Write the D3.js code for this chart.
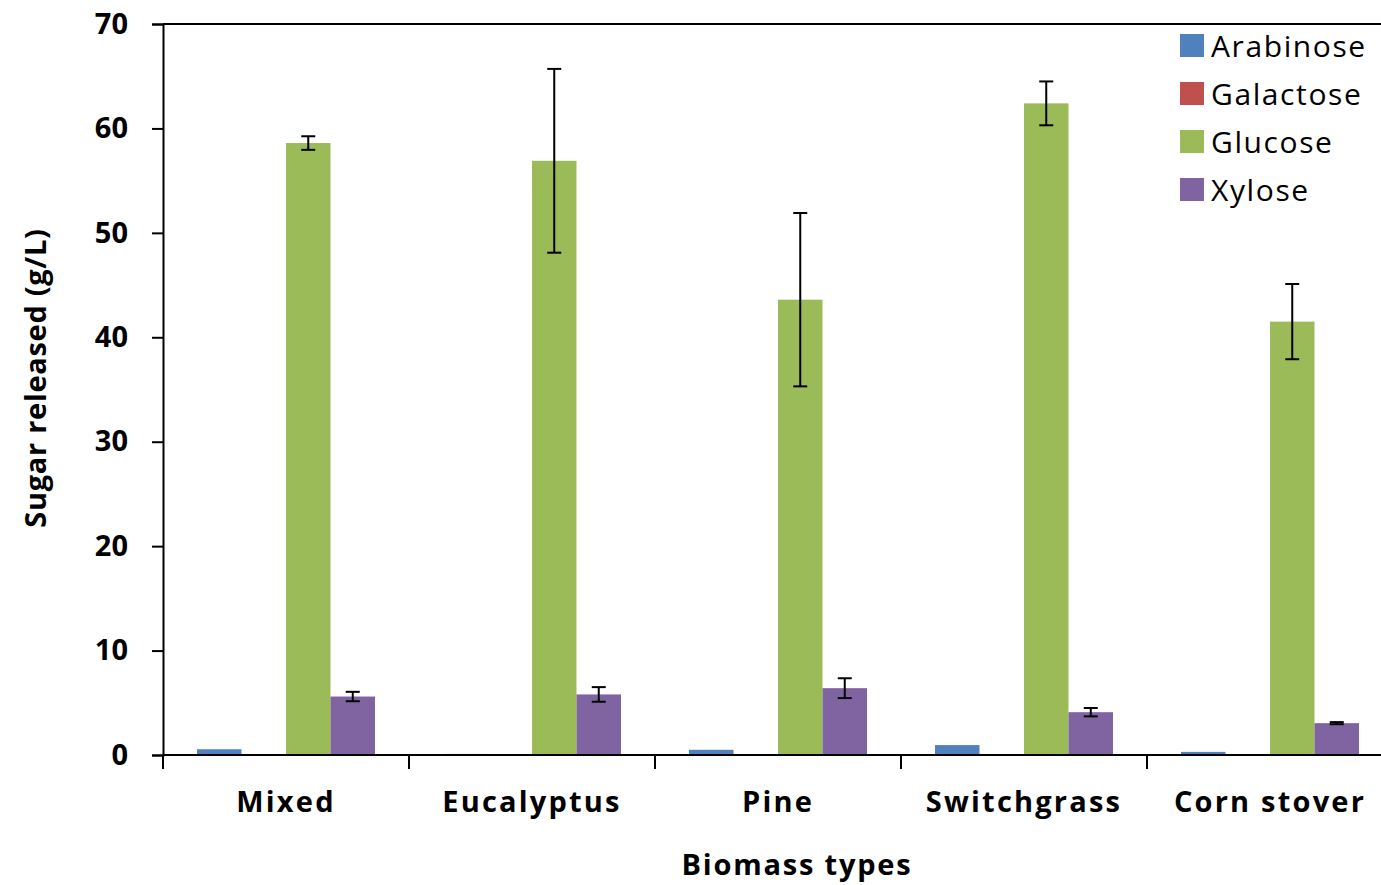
<!DOCTYPE html>
<html>
<head>
<meta charset="utf-8">
<script src="https://cdn.jsdelivr.net/npm/d3@7"></script>
<style>
  body { margin: 0; background: #fff; }
  text { font-family: "Open Sans", sans-serif; }
</style>
</head>
<body>
<div id="chart"></div>
<script>
const categories = ['Mixed', 'Eucalyptus', 'Pine', 'Switchgrass', 'Corn stover'];
const sugars = ['Arabinose', 'Galactose', 'Glucose', 'Xylose'];
const colors = ['#4f81bd', '#c0504d', '#9bbb59', '#8064a2'];

// means per sugar, in category order
const arabinose = [0.55, 0.1, 0.5, 0.95, 0.3];
const galactose = [0.05, 0.05, 0.05, 0.05, 0.05];
const glucose = [58.6, 56.9, 43.6, 62.4, 41.5];
const xylose = [5.6, 5.8, 6.4, 4.1, 3.05];

// error bars (± value), null = none
const glucoseErr = [0.65, 8.8, 8.3, 2.1, 3.6];
const xyloseErr = [0.45, 0.7, 0.95, 0.4, 0.1];

const yTicks = [0, 10, 20, 30, 40, 50, 60, 70];

const width = 1381, height = 885;
const margin = {top: 24, bottom: 130, left: 163};
const svg = d3.select('#chart').append('svg').attr('width', width).attr('height', height);

// the plot runs past the right edge of the picture
const x0 = d3.scaleBand().domain(categories).range([margin.left, margin.left + 246 * 5]);
const x1 = d3.scaleBand().domain(sugars).range([0, x0.bandwidth()]).paddingOuter(0.764).paddingInner(0);
const y = d3.scaleLinear().domain([0, 70]).range([height - margin.bottom, margin.top]);

const series = [arabinose, galactose, glucose, xylose];
const errs = [null, null, glucoseErr, xyloseErr];

// bars
sugars.forEach((s, si) => {
  svg.append('g').selectAll('rect')
    .data(categories)
    .enter().append('rect')
    .attr('x', c => x0(c) + x1(s))
    .attr('y', (c, i) => y(series[si][i]))
    .attr('width', x1.bandwidth())
    .attr('height', (c, i) => y(0) - y(series[si][i]))
    .attr('fill', colors[si]);
});

// error bars
sugars.forEach((s, si) => {
  if (!errs[si]) return;
  categories.forEach((c, i) => {
    const cx = x0(c) + x1(s) + x1.bandwidth() / 2;
    const hi = y(series[si][i] + errs[si][i]);
    const lo = y(series[si][i] - errs[si][i]);
    const g = svg.append('g').attr('stroke', '#000').attr('stroke-width', 2);
    g.append('line').attr('x1', cx).attr('x2', cx).attr('y1', hi).attr('y2', lo);
    g.append('line').attr('x1', cx - 7).attr('x2', cx + 7).attr('y1', hi).attr('y2', hi);
    g.append('line').attr('x1', cx - 7).attr('x2', cx + 7).attr('y1', lo).attr('y2', lo);
  });
});

// y axis
const yAxis = svg.append('g')
  .attr('transform', 'translate(' + margin.left + ',0)')
  .call(d3.axisLeft(y).tickValues(yTicks).tickSize(11).tickPadding(24));
yAxis.select('.domain').attr('stroke-width', 2);
yAxis.selectAll('.tick line').attr('stroke-width', 2);
yAxis.selectAll('text')
  .style('font-size', '29px').style('font-weight', 'bold')
  .style('font-family', '"Open Sans", sans-serif').attr('fill', '#000');

// top border
svg.append('line')
  .attr('x1', margin.left).attr('x2', width)
  .attr('y1', margin.top).attr('y2', margin.top)
  .attr('stroke', '#000').attr('stroke-width', 2);

// x axis
const y0 = y(0);
svg.append('line')
  .attr('x1', margin.left).attr('x2', width)
  .attr('y1', y0).attr('y2', y0)
  .attr('stroke', '#000').attr('stroke-width', 2);
categories.forEach(c => {
  svg.append('line')
    .attr('x1', x0(c)).attr('x2', x0(c))
    .attr('y1', y0).attr('y2', y0 + 14)
    .attr('stroke', '#000').attr('stroke-width', 2);
  svg.append('text')
    .attr('x', x0(c) + x0.bandwidth() / 2)
    .attr('y', 812)
    .attr('text-anchor', 'middle')
    .style('font-size', '29px').style('font-weight', 'bold')
    .style('letter-spacing', '2.2px')
    .text(c);
});

// axis titles
svg.append('text')
  .attr('x', 797).attr('y', 875)
  .attr('text-anchor', 'middle')
  .style('font-size', '29px').style('font-weight', 'bold')
  .style('letter-spacing', '1.8px')
  .text('Biomass types');

svg.append('text')
  .attr('transform', 'translate(46,378) rotate(-90)')
  .attr('text-anchor', 'middle')
  .style('font-size', '29px').style('font-weight', 'bold')
  .style('letter-spacing', '0.7px')
  .text('Sugar released (g/L)');

// legend
const legend = svg.append('g').attr('transform', 'translate(1180,34)');
sugars.forEach((s, i) => {
  const row = legend.append('g').attr('transform', 'translate(0,' + i * 48 + ')');
  row.append('rect').attr('width', 24).attr('height', 23).attr('fill', colors[i]);
  row.append('text').attr('x', 31).attr('y', 23)
    .style('font-size', '30px')
    .style('letter-spacing', '1.6px')
    .text(s);
});
</script>
</body>
</html>
